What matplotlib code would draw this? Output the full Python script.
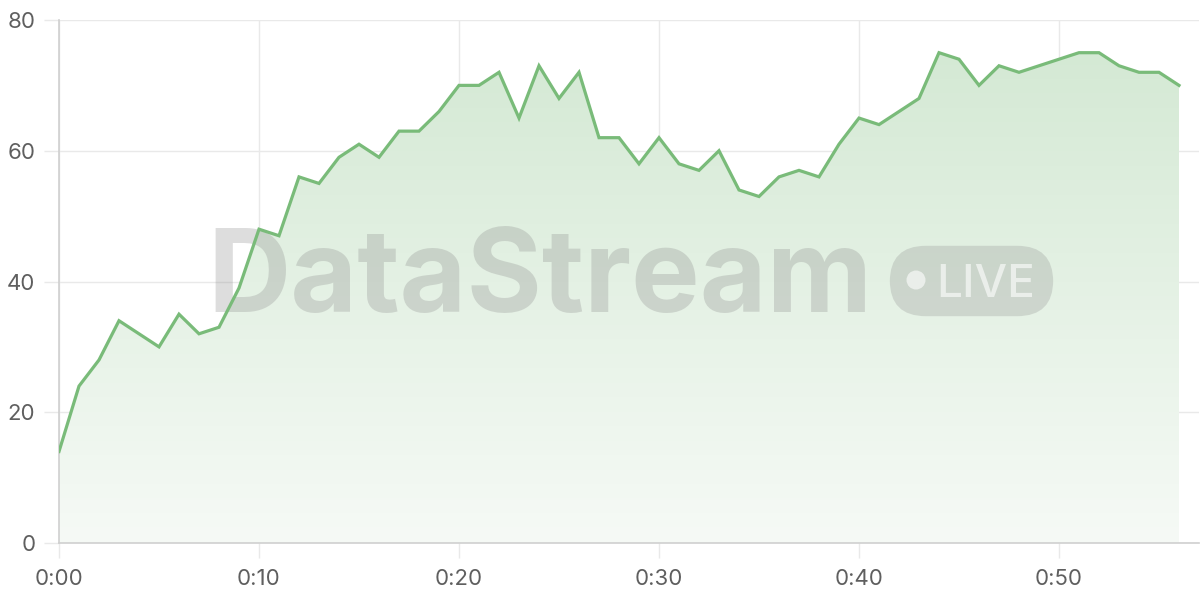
import matplotlib
matplotlib.use("Agg")
import matplotlib.pyplot as plt
import numpy as np
from matplotlib.patches import FancyBboxPatch, Ellipse
from matplotlib.colors import LinearSegmentedColormap

# one reading per minute, 0:00 .. 0:56
minutes = list(range(57))
values = [14, 24, 28, 34, 32, 30, 35, 32, 33, 39,
          48, 47, 56, 55, 59, 61, 59, 63, 63, 66,
          70, 70, 72, 65, 73, 68, 72, 62, 62, 58,
          62, 58, 57, 60, 54, 53, 56, 57, 56, 61,
          65, 64, 66, 68, 75, 74, 70, 73, 72, 73,
          74, 75, 75, 73, 72, 72, 70]
xticks = [0, 10, 20, 30, 40, 50]
xtick_labels = ['0:00', '0:10', '0:20', '0:30', '0:40', '0:50']
yticks = [0, 20, 40, 60, 80]

line_color = '#79bb79'
grid_color = '#e9e9e9'
label_color = '#5f5f5f'
mark_grey = '#8f8f8f'

plt.rcParams['font.family'] = ['Inter', 'DejaVu Sans']

fig = plt.figure(figsize=(12, 6), dpi=100)
ax = fig.add_axes([59 / 1200, 57 / 600, 1140 / 1200, 523 / 600])
ax.set_xlim(0, 57)
ax.set_ylim(0, 80)

# gradient under the line
grad = LinearSegmentedColormap.from_list('g', ['#f6faf6', '#d2e8d2'])
img = ax.imshow(np.linspace(0, 1, 256).reshape(-1, 1), cmap=grad, aspect='auto',
                origin='lower', extent=[0, 57, 0, 80], zorder=1)
poly = ax.fill_between(minutes, values, 0, color='none', lw=0)
img.set_clip_path(poly.get_paths()[0], transform=ax.transData)

ax.plot(minutes, values, color=line_color, lw=2.3, zorder=3,
        solid_joinstyle='miter')

# grid and axes
ax.set_xticks(xticks)
ax.set_xticklabels(xtick_labels)
ax.set_yticks(yticks)
ax.grid(True, color=grid_color, lw=1, zorder=0)
for s in ['top', 'right']:
    ax.spines[s].set_visible(False)
for s in ['left', 'bottom']:
    ax.spines[s].set_color('#cfcfcf')
    ax.spines[s].set_linewidth(1.2)
ax.tick_params(axis='both', length=11, width=1, color=grid_color,
               labelcolor=label_color, labelsize=16)
ax.tick_params(axis='y', pad=6)
ax.tick_params(axis='x', pad=8)
ax.set_axisbelow(True)

# watermark, between the fill and the line
tf = fig.transFigure
ax.text(540 / 1200, 1 - 312 / 600, 'DataStream', transform=tf, ha='center',
        va='baseline', fontsize=83, fontweight='bold', color=mark_grey,
        alpha=0.3, zorder=2, clip_on=False)
pill = FancyBboxPatch((897 / 1200, 1 - 309 / 600), 149 / 1200, 56 / 600,
                      boxstyle='round,pad=0.006,rounding_size=0.03',
                      transform=tf, facecolor=mark_grey, alpha=0.28,
                      edgecolor='none', zorder=2, mutation_aspect=2,
                      clip_on=False)
ax.add_artist(pill)
dot = Ellipse((916 / 1200, 1 - 280 / 600), 19 / 1200, 19 / 600, transform=tf,
              facecolor='white', alpha=0.6, edgecolor='none', zorder=2,
              clip_on=False)
ax.add_artist(dot)
ax.text(986 / 1200, 1 - 297 / 600, 'LIVE', transform=tf, ha='center',
        va='baseline', fontsize=33, fontweight='medium', color='white',
        alpha=0.6, zorder=2, clip_on=False)

fig.savefig('out.png', dpi=100, facecolor='white')
